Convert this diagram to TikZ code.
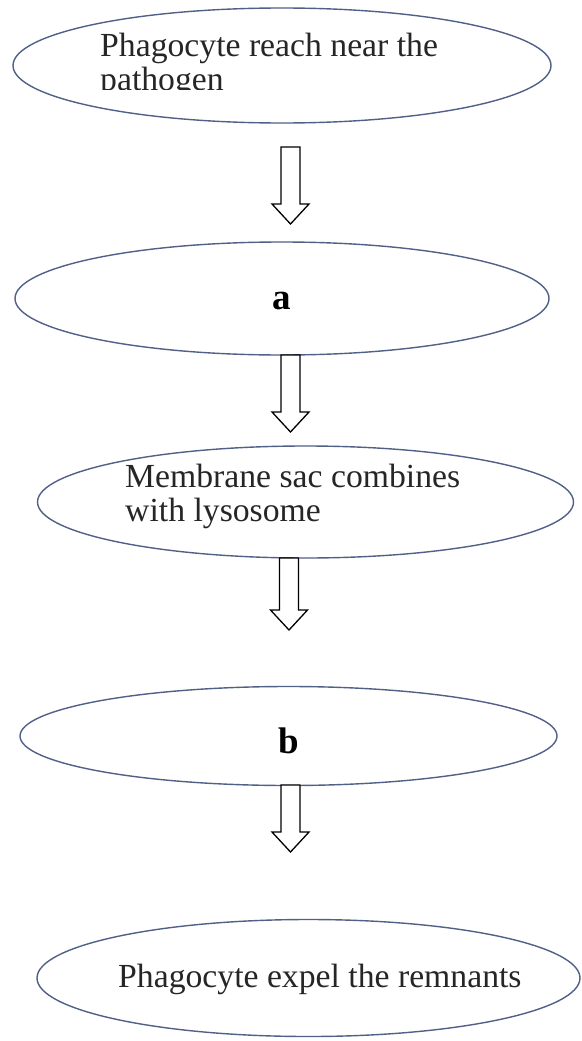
\documentclass[tikz,border=0pt]{standalone}
\usepackage{fontspec}
\setmainfont{Liberation Serif}
\usetikzlibrary{shapes.geometric,calc}
\definecolor{ellcol}{RGB}{80,96,135}
\definecolor{txtcol}{RGB}{38,38,38}
\newcommand{\blockarrow}[2]{%
  \draw[arrowline] ($(#1)+(-9.5,0)$) -- ($(#2)+(-9.5,-20)$) -- ($(#2)+(-18.5,-20)$) -- (#2)
    -- ($(#2)+(18.5,-20)$) -- ($(#2)+(9.5,-20)$) -- ($(#1)+(9.5,0)$) -- cycle;}
\begin{document}
\begin{tikzpicture}[x=1pt,y=-1pt,
  stage/.style={ellipse, draw=ellcol, line width=1.4pt, inner sep=0pt},
  label/.style={anchor=base west, inner sep=0pt, text=txtcol, font=\fontsize{33.7}{33.7}\selectfont},
  letter/.style={inner sep=0pt, text=black, font=\fontsize{37}{37}\selectfont\bfseries},
  arrowline/.style={draw=black, line width=1.3pt, line join=miter, fill=white}]
\useasboundingbox (0,0) rectangle (581,1041);
\fill[white] (0,0) rectangle (581,1041);
% ellipses
\node[stage, minimum width=538pt, minimum height=115pt] (e1) at (282,65.5) {};
\node[stage, minimum width=534pt, minimum height=113pt] (e2) at (282,298.5) {};
\node[stage, minimum width=536pt, minimum height=112pt] (e3) at (305.5,502) {};
\node[stage, minimum width=537pt, minimum height=99pt] (e4) at (288.5,736) {};
\node[stage, minimum width=543pt, minimum height=117pt] (e5) at (308.5,978) {};
% texts
\node[label] (t1a) at (100,57) {Phagocyte reach near the};
\begin{scope}
\clip (90,60) rectangle (480,89);
\node[label] (t1b) at (100,90) {pathogen};
\end{scope}
\node[letter] (ta) at (282,301) {a};
\node[label] (t3a) at (125,487) {Membrane sac combines};
\node[label] (t3b) at (125,521) {with lysosome};
\node[letter] (tb) at (289,741) {b};
\node[label] (t5) at (118,987) {Phagocyte expel the remnants};
% arrows
\coordinate (s1) at (290.5,147);  \coordinate (h1) at (290.5,224);
\coordinate (s2) at (290.5,355);  \coordinate (h2) at (290.5,432);
\coordinate (s3) at (289,558);    \coordinate (h3) at (289,630);
\coordinate (s4) at (290.5,785);  \coordinate (h4) at (290.5,852);
\blockarrow{s1}{h1}
\blockarrow{s2}{h2}
\blockarrow{s3}{h3}
\blockarrow{s4}{h4}
\end{tikzpicture}
\end{document}
